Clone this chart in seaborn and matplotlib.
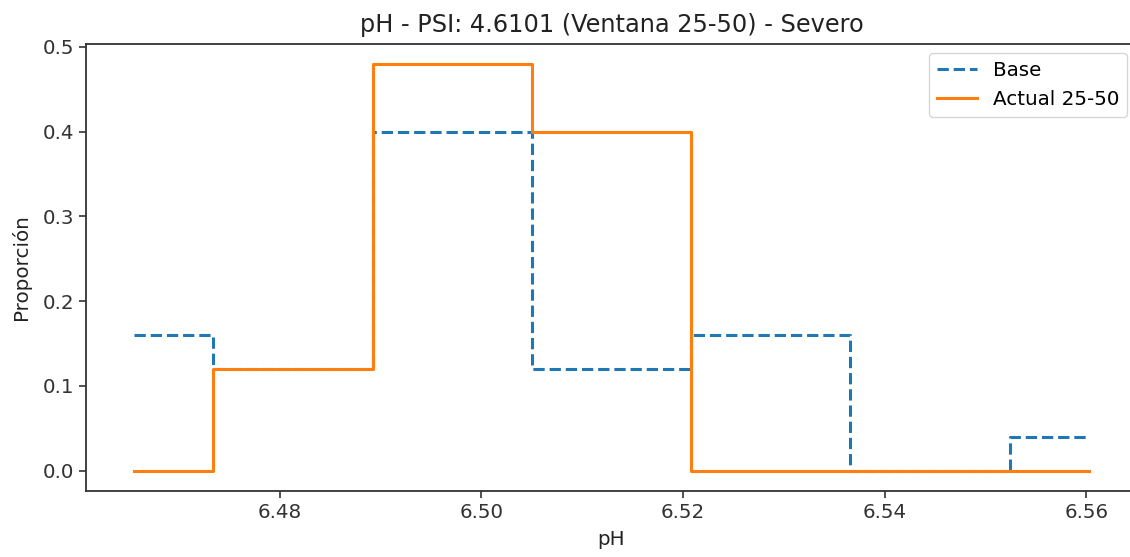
import numpy as np
import pandas as pd
import matplotlib
matplotlib.use("Agg")
import matplotlib.pyplot as plt
import seaborn as sns

# Data (bin positions for pH and proportions)
ph_points = [6.4655, 6.4813, 6.4971, 6.5129, 6.5287, 6.5445, 6.5603]
base_prop = [0.16, 0.12, 0.40, 0.12, 0.16, 0.00, 0.04]
actual_prop = [0.00, 0.12, 0.48, 0.40, 0.00, 0.00, 0.00]
series_labels = ["Base", "Actual 25-50"]
title = "pH - PSI: 4.6101 (Ventana 25-50) - Severo"

fs = 14.3
plt.rcParams.update({
    "font.family": ["DejaVu Sans"],
    "font.size": fs,
    "axes.titlesize": 17.3,
    "axes.labelsize": fs,
    "xtick.labelsize": fs,
    "ytick.labelsize": fs,
    "legend.fontsize": fs,
    "axes.edgecolor": "#333333",
    "axes.linewidth": 1.3,
    "xtick.major.size": 5,
    "ytick.major.size": 5,
    "xtick.major.width": 1.2,
    "ytick.major.width": 1.2,
    "xtick.color": "#333333",
    "ytick.color": "#333333",
})

fig = plt.figure(figsize=(11.3, 5.57), dpi=100)
ax = fig.add_axes([86 / 1130, 1 - 491 / 557, (1137 - 86) / 1130, (491 - 43.5) / 557])

df_base = pd.DataFrame({"pH": ph_points, "Proporción": base_prop})
df_act = pd.DataFrame({"pH": ph_points, "Proporción": actual_prop})

pal = sns.color_palette("tab10")
sns.lineplot(data=df_base, x="pH", y="Proporción", ax=ax, color=pal[0],
             linestyle="--", linewidth=2.2, drawstyle="steps-mid", label=series_labels[0])
sns.lineplot(data=df_act, x="pH", y="Proporción", ax=ax, color=pal[1],
             linestyle="-", linewidth=2.2, drawstyle="steps-mid", label=series_labels[1])

ax.set_title(title, color="#222222", pad=8)
ax.set_xlabel("pH", color="#222222", labelpad=6)
ax.set_ylabel("Proporción", color="#222222", labelpad=8)
ax.set_xticks([6.48, 6.50, 6.52, 6.54, 6.56])
ax.set_yticks([0.0, 0.1, 0.2, 0.3, 0.4, 0.5])
ax.legend(loc="upper right", frameon=True)

fig.savefig("out.png", dpi=100)
